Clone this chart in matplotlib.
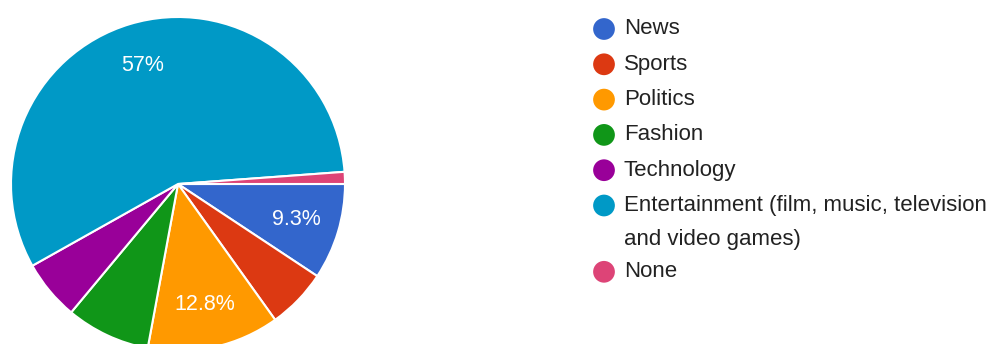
import matplotlib
matplotlib.use("Agg")
import matplotlib.pyplot as plt

plt.rcParams['font.family'] = ['Liberation Sans', 'DejaVu Sans']

# survey answers (86 responses)
categories = ['News', 'Sports', 'Politics', 'Fashion', 'Technology',
              'Entertainment (film, music, television\nand video games)', 'None']
counts = [8, 5, 11, 7, 5, 49, 1]
colors = ['#3366cc', '#dc3912', '#ff9900', '#109618', '#990099', '#0099c6', '#dd4477']

W, H = 992, 344
fig = plt.figure(figsize=(W / 100, H / 100), dpi=100)

# pie: centre (178, 184) px, radius 167 px
cx, cy, r = 178, 184, 167
ax = fig.add_axes([(cx - r) / W, (H - cy - r) / H, 2 * r / W, 2 * r / H])


def fmt(p):
    if p < 9:
        return ''
    s = '%.1f' % p
    if s.endswith('.0'):
        s = s[:-2]
    return s + '%'


wedges, _, autotexts = ax.pie(counts, colors=colors, startangle=0, counterclock=False,
                              autopct=fmt, pctdistance=0.74,
                              wedgeprops=dict(edgecolor='white', linewidth=1.5),
                              textprops=dict(color='white', fontsize=15.5))
ax.set_xlim(-1, 1)
ax.set_ylim(-1, 1)

# legend drawn by hand in pixel coordinates
lg = fig.add_axes([0, 0, 1, 1])
lg.set_xlim(0, W)
lg.set_ylim(H, 0)
lg.axis('off')

y = 29
for name, col in zip(categories, colors):
    lg.scatter([604], [y], s=245, color=col, edgecolors='none')
    lines = name.split('\n')
    for k, line in enumerate(lines):
        lg.text(624, y + k * 34, line, fontsize=16, color='#222222', va='center', ha='left')
    y += 35.3 + (len(lines) - 1) * 31

fig.savefig('out.png', dpi=100)
